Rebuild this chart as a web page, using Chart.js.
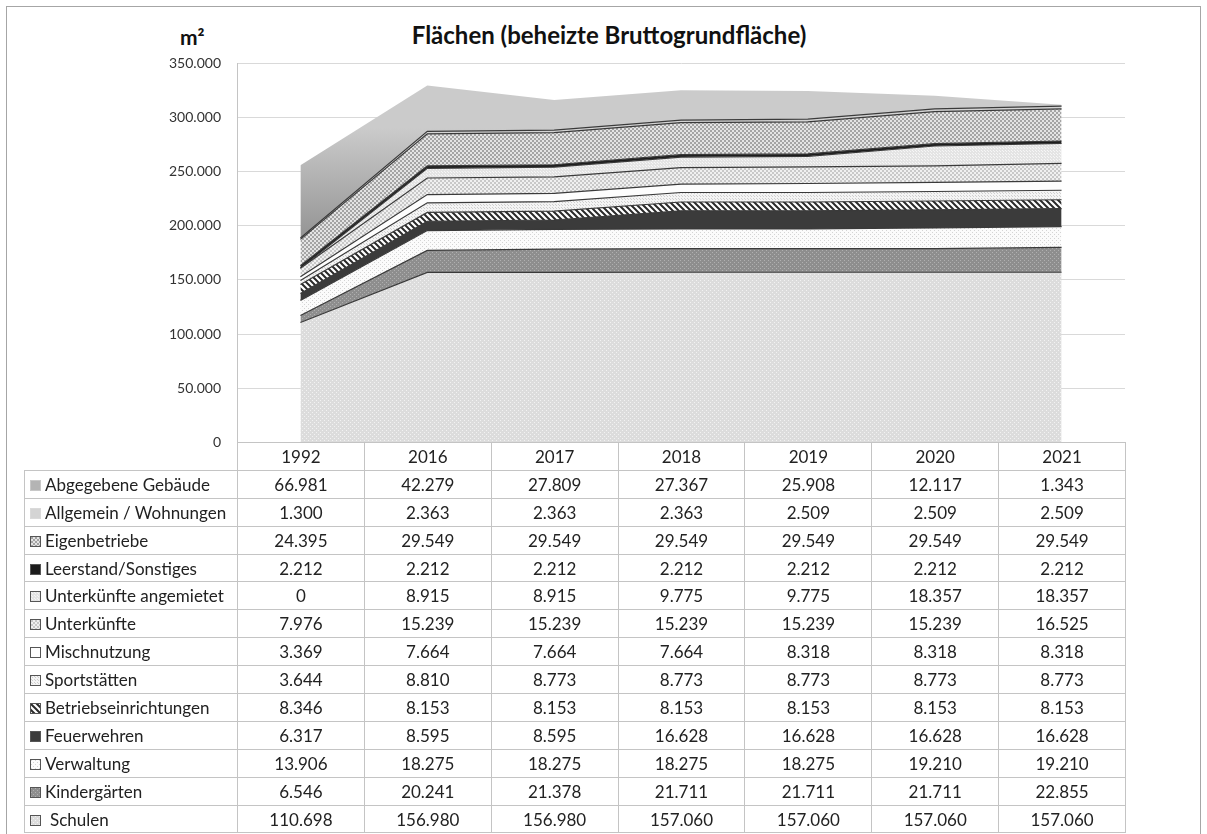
<!DOCTYPE html>
<html>
<head>
<meta charset="utf-8">
<script src="https://cdn.jsdelivr.net/npm/chart.js@4.4.1/dist/chart.umd.min.js"></script>
<style>
  body { margin: 0; background: #fff; font-family: Lato, "Open Sans", sans-serif; }
  #frame { position: absolute; left: 6px; top: 6px; width: 1193px; height: 840px; border: 1px solid #a6a6a6; }
  #title { position: absolute; left: 300px; width: 618px; top: 20px; text-align: center; font: bold 24px Lato, sans-serif; color: #111; }
  #unit { position: absolute; left: 180px; top: 24px; font: bold 21px Lato, sans-serif; color: #111; }
  #areaChart { position: absolute; left: 0; top: 0; }
  #tbl { position: absolute; left: 24px; top: 442px; border-collapse: collapse; table-layout: fixed; font-size: 17px; color: #222; }
  #tbl td { border: 1px solid #c4c4c4; height: 26.9px; padding: 0; text-align: center; white-space: nowrap; }
  #tbl td.lbl { text-align: left; padding-left: 5px; }
  #tbl td.blank { border: none; border-right: 1px solid #c4c4c4; }
  .key { display: inline-block; width: 9px; height: 9px; border: 1px solid #555; margin-right: 4px; vertical-align: 0px; background-size: 6px 6px; }
</style>
</head>
<body>
<div id="frame"></div>
<div id="title">Flächen (beheizte Bruttogrundfläche)</div>
<div id="unit">m²</div>
<canvas id="areaChart" width="1207" height="467"></canvas>
<table id="tbl"></table>

<script>
// Data (values in m²)
const years = ["1992", "2016", "2017", "2018", "2019", "2020", "2021"];
const yTicks = [0, 50000, 100000, 150000, 200000, 250000, 300000, 350000];

const schulen = [110698, 156980, 156980, 157060, 157060, 157060, 157060];
const kindergaerten = [6546, 20241, 21378, 21711, 21711, 21711, 22855];
const verwaltung = [13906, 18275, 18275, 18275, 18275, 19210, 19210];
const feuerwehren = [6317, 8595, 8595, 16628, 16628, 16628, 16628];
const betriebseinrichtungen = [8346, 8153, 8153, 8153, 8153, 8153, 8153];
const sportstaetten = [3644, 8810, 8773, 8773, 8773, 8773, 8773];
const mischnutzung = [3369, 7664, 7664, 7664, 8318, 8318, 8318];
const unterkuenfte = [7976, 15239, 15239, 15239, 15239, 15239, 16525];
const unterkuenfteAngemietet = [0, 8915, 8915, 9775, 9775, 18357, 18357];
const leerstand = [2212, 2212, 2212, 2212, 2212, 2212, 2212];
const eigenbetriebe = [24395, 29549, 29549, 29549, 29549, 29549, 29549];
const allgemein = [1300, 2363, 2363, 2363, 2509, 2509, 2509];
const abgegeben = [66981, 42279, 27809, 27367, 25908, 12117, 1343];

// German number format: 110698 -> 110.698
function fmt(v) {
    return String(v).replace(/\B(?=(\d{3})+(?!\d))/g, ".");
}

// Small pattern tiles
function tile(size, draw) {
    const c = document.createElement("canvas");
    c.width = c.height = size;
    draw(c.getContext("2d"), size);
    return c;
}
function dots(bg, dot, step) {
    return tile(step, (x, s) => {
        x.fillStyle = bg; x.fillRect(0, 0, s, s);
        x.fillStyle = dot; x.fillRect(0, 0, 1, 1);
        x.fillRect(Math.floor(s / 2), Math.floor(s / 2), 1, 1);
    });
}
function checker(a, b) {
    return tile(4, (x) => {
        x.fillStyle = a; x.fillRect(0, 0, 4, 4);
        x.fillStyle = b; x.fillRect(0, 0, 2, 2); x.fillRect(2, 2, 2, 2);
    });
}
function solid(col) {
    return tile(2, (x) => { x.fillStyle = col; x.fillRect(0, 0, 2, 2); });
}
function stripes() {
    return tile(6, (x) => {
        x.fillStyle = "#fff"; x.fillRect(0, 0, 6, 6);
        x.strokeStyle = "#2a2a2a"; x.lineWidth = 2;
        x.beginPath();
        x.moveTo(-1, -1); x.lineTo(7, 7);
        x.moveTo(-4, 2); x.lineTo(4, 10);
        x.moveTo(2, -4); x.lineTo(10, 4);
        x.stroke();
    });
}

const series = [
    { label: "Schulen", data: schulen, tile: dots("#dcdcdc", "#f2f2f2", 4) },
    { label: "Kindergärten", data: kindergaerten, tile: dots("#8e8e8e", "#b0b0b0", 4) },
    { label: "Verwaltung", data: verwaltung, tile: dots("#fbfbfb", "#d4d4d4", 4) },
    { label: "Feuerwehren", data: feuerwehren, tile: solid("#3b3b3b") },
    { label: "Betriebseinrichtungen", data: betriebseinrichtungen, tile: stripes() },
    { label: "Sportstätten", data: sportstaetten, tile: dots("#f4f4f4", "#cfcfcf", 3) },
    { label: "Mischnutzung", data: mischnutzung, tile: solid("#fdfdfd") },
    { label: "Unterkünfte", data: unterkuenfte, tile: checker("#f0f0f0", "#c8c8c8") },
    { label: "Unterkünfte angemietet", data: unterkuenfteAngemietet, tile: dots("#e4e4e4", "#f6f6f6", 3) },
    { label: "Leerstand/Sonstiges", data: leerstand, tile: solid("#1c1c1c") },
    { label: "Eigenbetriebe", data: eigenbetriebe, tile: checker("#e4e4e4", "#a4a4a4") },
    { label: "Allgemein / Wohnungen", data: allgemein, tile: solid("#d4d4d4") },
    { label: "Abgegebene Gebäude", data: abgegeben, tile: null }
];

const cctx = document.getElementById("areaChart").getContext("2d");

// Gradient for the top layer
function topGradient(context) {
    const chart = context.chart;
    const y = chart.scales && chart.scales.y;
    if (!chart.chartArea || !y) return "#c8c8c8";
    const y0 = y.getPixelForValue(290000);
    const y1 = y.getPixelForValue(185000);
    if (!isFinite(y0) || !isFinite(y1)) return "#c8c8c8";
    const g = chart.ctx.createLinearGradient(0, y0, 0, y1);
    g.addColorStop(0, "#cbcbcb");
    g.addColorStop(1, "#929292");
    return g;
}

const datasets = series.map((s, i) => ({
    label: s.label,
    data: s.data,
    fill: i === 0 ? "origin" : "-1",
    backgroundColor: s.tile ? cctx.createPattern(s.tile, "repeat") : topGradient,
    borderColor: s.tile ? "#3a3a3a" : "rgba(0,0,0,0)",
    borderWidth: s.tile ? 1.2 : 0,
    pointRadius: 0,
    tension: 0
}));

new Chart(cctx, {
    type: "line",
    data: { labels: years, datasets: datasets },
    options: {
        responsive: false,
        animation: false,
        layout: { padding: { top: 63, right: 82, bottom: 1, left: 0 } },
        plugins: { legend: { display: false }, tooltip: { enabled: false } },
        scales: {
            x: { display: false, offset: true },
            y: {
                stacked: true,
                min: 0,
                max: 350000,
                afterFit: (scale) => { scale.width = 237; },
                afterBuildTicks: (scale) => { scale.ticks = yTicks.map(v => ({ value: v })); },
                grid: { color: "#d9d9d9", drawTicks: false },
                border: { color: "#c4c4c4" },
                ticks: {
                    padding: 16,
                    color: "#333",
                    font: { family: "Lato", size: 14 },
                    callback: (v) => fmt(v)
                }
            }
        }
    }
});

// Data table under the chart (top layer first)
function buildTable() {
    const tbl = document.getElementById("tbl");
    let html = "<colgroup><col style='width:213px'>";
    years.forEach(() => { html += "<col style='width:126.86px'>"; });
    html += "</colgroup><tr><td class='blank'></td>";
    years.forEach(y => { html += "<td>" + y + "</td>"; });
    html += "</tr>";
    series.slice().reverse().forEach(s => {
        let bg, border = "1px solid #555";
        if (s.tile) {
            bg = "url(" + s.tile.toDataURL() + ")";
        } else {
            bg = "#b4b4b4";
            border = "1px solid #c8c8c8";
        }
        if (s.label === "Allgemein / Wohnungen") border = "1px solid #dadada";
        const pad = s.label === "Schulen" ? " style='padding-left:5px'" : "";
        html += "<tr><td class='lbl'><span class='key' style='background:" + bg + ";border:" + border + "'></span><span" + pad + ">" + s.label + "</span></td>";
        s.data.forEach(v => { html += "<td>" + fmt(v) + "</td>"; });
        html += "</tr>";
    });
    tbl.innerHTML = html;
}
buildTable();
</script>
</body>
</html>
